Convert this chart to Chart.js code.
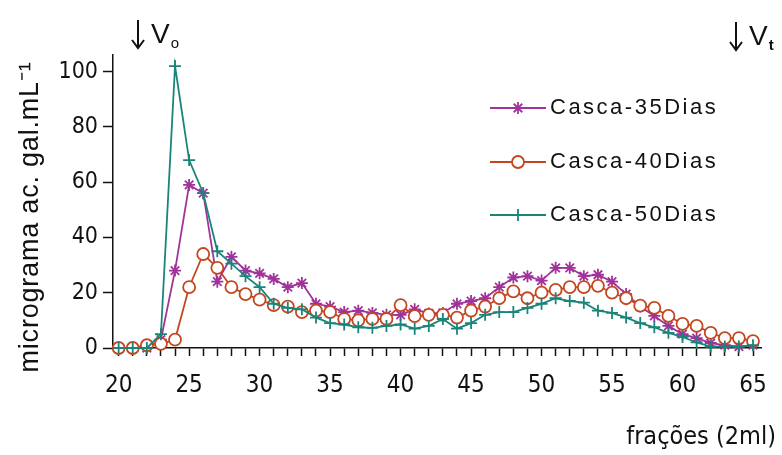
<!DOCTYPE html>
<html>
<head>
<meta charset="utf-8">
<script src="https://cdn.jsdelivr.net/npm/chart.js@4/dist/chart.umd.min.js"></script>
<style>
    body { margin: 0; background: #fff; }
    canvas { display: block; }
</style>
</head>
<body>
<canvas id="chart" width="782" height="455"></canvas>
<script>
// fractions (2ml)
const fractions = [20, 21, 22, 23, 24, 25, 26, 27, 28, 29, 30, 31, 32, 33, 34, 35, 36, 37, 38, 39, 40, 41, 42,
    43, 44, 45, 46, 47, 48, 49, 50, 51, 52, 53, 54, 55, 56, 57, 58, 59, 60, 61, 62, 63, 64, 65];

const casca35 = [0, 0, 0, 3, 28, 59, 56, 24, 33, 28, 27, 25, 22, 23.5, 16, 15, 13, 13.5, 12.7, 12, 12, 14, 12.5,
    12.7, 16, 17, 18, 22, 25.5, 26, 24.4, 29, 29, 26, 26.5, 24, 19.5, 15, 11.6, 8, 5, 3.6, 1.8, 1, 0.5, 1];

const casca40 = [0, 0, 1, 1.5, 3, 22, 34, 29, 22, 19.5, 17.5, 15.5, 15, 13, 13.5, 13, 10.5, 10, 10.5, 10.5, 15.5, 11.5, 12,
    12, 11, 13.5, 15, 18, 20.5, 18, 20, 21, 22, 22, 22.5, 20, 18, 15.3, 14.5, 11.6, 8.7, 8, 5.5, 3.6, 3.6, 2.5];

const casca50 = [0, 0, 0, 5, 102, 68, 56, 35, 30.5, 26, 22, 16, 14.5, 14, 11, 9, 8.5, 7.5, 7.3, 8, 8.5, 7, 8,
    10.5, 7, 9, 12, 13, 13, 14.5, 16, 18, 17, 16.4, 13.5, 12.7, 11, 9, 7.5, 5.5, 4, 2, 0.5, 0.5, 0.5, 1];

const seriesNames = ['Casca-35Dias', 'Casca-40Dias', 'Casca-50Dias'];
const yTicks = [0, 20, 40, 60, 80, 100];

const PURPLE = '#a1329a';
const ORANGE = '#c4461f';
const TEAL = '#19857a';
const NARROW = '"Liberation Sans Narrow", "Arial Narrow", "DejaVu Sans Condensed", sans-serif';
const REGULAR = '"Liberation Sans", Arial, sans-serif';

function toPoints(values) {
    return fractions.map((f, i) => ({ x: f, y: values[i] }));
}

// draws one marker like the dataset uses
function drawMarker(ctx, style, x, y, color) {
    ctx.save();
    ctx.strokeStyle = color;
    ctx.lineWidth = 1.8;
    ctx.beginPath();
    if (style === 'circle') {
        ctx.fillStyle = '#fff';
        ctx.arc(x, y, 6, 0, Math.PI * 2);
        ctx.fill();
        ctx.stroke();
    } else if (style === 'star') {
        for (let k = 0; k < 4; k++) {
            const a = k * Math.PI / 4;
            ctx.moveTo(x - 6 * Math.cos(a), y - 6 * Math.sin(a));
            ctx.lineTo(x + 6 * Math.cos(a), y + 6 * Math.sin(a));
        }
        ctx.stroke();
    } else {
        ctx.moveTo(x - 6, y); ctx.lineTo(x + 6, y);
        ctx.moveTo(x, y - 6); ctx.lineTo(x, y + 6);
        ctx.stroke();
    }
    ctx.restore();
}

// arrow + V + subscript
function drawVolume(ctx, x, y, sub, bold) {
    ctx.save();
    ctx.strokeStyle = '#111';
    ctx.lineWidth = 2;
    ctx.beginPath();
    ctx.moveTo(x, y - 15);
    ctx.lineTo(x, y + 12);
    ctx.moveTo(x - 6, y + 5);
    ctx.lineTo(x, y + 13);
    ctx.lineTo(x + 6, y + 5);
    ctx.stroke();
    ctx.restore();
    ctx.font = '28px ' + REGULAR;
    const vx = x + 13;
    ctx.fillText('V', vx, y);
    const w = ctx.measureText('V').width;
    ctx.font = (bold ? 'bold ' : '') + '15px ' + REGULAR;
    ctx.fillText(sub, vx + w + 1, y + 9);
}

const annotations = {
    id: 'annotations',
    afterDraw(chart) {
        const ctx = chart.ctx;
        ctx.save();
        ctx.fillStyle = '#111';

        // y axis title
        ctx.save();
        ctx.translate(38, 217);
        ctx.rotate(-Math.PI / 2);
        ctx.font = '27px ' + REGULAR;
        ctx.textAlign = 'center';
        ctx.textBaseline = 'alphabetic';
        ctx.letterSpacing = '0.8px';
        ctx.fillText('micrograma ac. gal.mL\u207B\u00B9', 0, 0);
        ctx.restore();

        // x axis title
        ctx.font = '25px ' + NARROW;
        ctx.textAlign = 'right';
        ctx.textBaseline = 'middle';
        ctx.fillText('frações (2ml)', 776, 437);

        // Vo and Vt markers
        ctx.textAlign = 'left';
        drawVolume(ctx, 138, 35, 'o', false);
        drawVolume(ctx, 736, 37, 't', true);

        // legend
        const styles = ['star', 'circle', 'cross'];
        const colors = [PURPLE, ORANGE, TEAL];
        const rows = [108, 162, 215];
        ctx.font = '22px ' + REGULAR;
        ctx.letterSpacing = '2.5px';
        rows.forEach((y, i) => {
            ctx.strokeStyle = colors[i];
            ctx.lineWidth = 1.8;
            ctx.beginPath();
            ctx.moveTo(490, y);
            ctx.lineTo(546, y);
            ctx.stroke();
            drawMarker(ctx, styles[i], 518, y, colors[i]);
            ctx.fillStyle = '#111';
            ctx.fillText(seriesNames[i], 550, y);
        });
        ctx.restore();
    }
};

const ctx = document.getElementById('chart').getContext('2d');
new Chart(ctx, {
    type: 'line',
    data: {
        datasets: [{
            label: seriesNames[0],
            data: toPoints(casca35),
            borderColor: PURPLE,
            pointBorderColor: PURPLE,
            pointStyle: 'star',
            pointRadius: 6,
            order: 3
        }, {
            label: seriesNames[1],
            data: toPoints(casca40),
            borderColor: ORANGE,
            pointBorderColor: ORANGE,
            pointBackgroundColor: '#fff',
            pointStyle: 'circle',
            pointRadius: 6,
            order: 2
        }, {
            label: seriesNames[2],
            data: toPoints(casca50),
            borderColor: TEAL,
            pointBorderColor: TEAL,
            pointStyle: 'cross',
            pointRadius: 6,
            order: 1
        }]
    },
    options: {
        responsive: false,
        animation: false,
        devicePixelRatio: 1,
        datasets: {
            line: {
                borderWidth: 1.8,
                pointBorderWidth: 1.8,
                tension: 0,
                clip: false
            }
        },
        layout: {
            padding: { top: 55, right: 20, left: 0, bottom: 0 }
        },
        plugins: {
            legend: { display: false },
            tooltip: { enabled: false }
        },
        scales: {
            x: {
                type: 'linear',
                min: 19.6,
                max: 65.6,
                afterBuildTicks: scale => {
                    scale.ticks = fractions.map(v => ({ value: v }));
                },
                afterFit: scale => { scale.height = 107; },
                ticks: {
                    autoSkip: false,
                    maxRotation: 0,
                    padding: 15,
                    color: '#111',
                    font: { family: NARROW, size: 24 },
                    callback: v => (v % 5 === 0 ? v : '')
                },
                grid: {
                    drawOnChartArea: false,
                    drawTicks: true,
                    tickLength: 8,
                    tickColor: '#111',
                    tickWidth: 1.5
                },
                border: { color: '#111', width: 1.5 }
            },
            y: {
                min: 0,
                max: 106,
                afterBuildTicks: scale => {
                    scale.ticks = yTicks.map(v => ({ value: v }));
                },
                afterFit: scale => { scale.width = 113; },
                ticks: {
                    padding: 5,
                    color: '#111',
                    font: { family: NARROW, size: 23 }
                },
                grid: {
                    drawOnChartArea: false,
                    drawTicks: true,
                    tickLength: 10,
                    tickColor: '#111',
                    tickWidth: 1.5
                },
                border: { color: '#111', width: 1.5 }
            }
        }
    },
    plugins: [annotations]
});
</script>
</body>
</html>
